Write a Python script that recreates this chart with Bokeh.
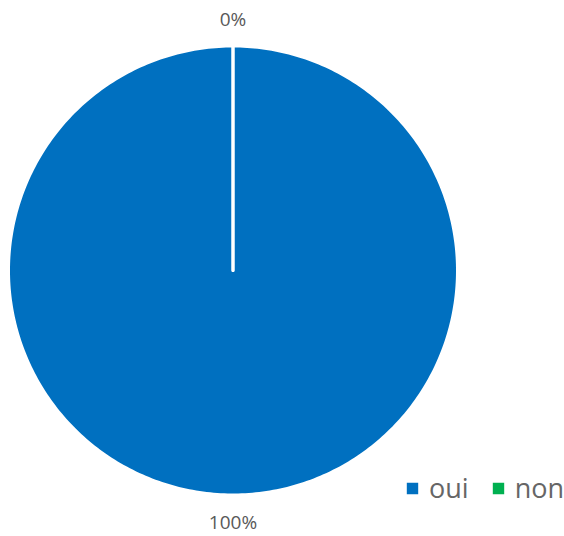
import numpy as np
from bokeh.plotting import figure
from bokeh.models import ColumnDataSource, Legend, LegendItem
from bokeh.embed import file_html
from bokeh.resources import INLINE
from bokeh.core.properties import value

categories = ["oui", "non"]
values = [1, 0]
pct_labels = ["100%", "0%"]
colors = ["#0070C0", "#00B050"]

W, H = 564, 536
cx, cy = 232.5, 270
R = 224.5

p = figure(width=W, height=H, output_backend="svg", toolbar_location=None,
           x_range=(-cx, W - cx), y_range=(-(H - cy), cy),
           min_border=0, outline_line_color=None)
p.axis.visible = False
p.grid.visible = False
p.background_fill_color = "white"

total = float(sum(values))
xs, ys = [], []
start = np.pi / 2
mids = []
for v in values:
    frac = v / total
    end = start - 2 * np.pi * frac
    th = np.linspace(start, end, 400)
    xs.append(list(np.concatenate([[0], R * np.cos(th), [0]])))
    ys.append(list(np.concatenate([[0], R * np.sin(th), [0]])))
    mids.append((start + end) / 2)
    start = end

src = ColumnDataSource(dict(xs=xs, ys=ys, color=colors, cat=categories))
r = p.patches("xs", "ys", source=src, fill_color="color", line_color="white",
              line_width=3, line_join="round")

# labels outside
lr = 251.5
lx = [lr * np.cos(m) for m in mids]
ly = [lr * np.sin(m) for m in mids]
p.text(x=lx, y=ly, text=pct_labels, text_align="center", text_baseline="middle",
       text_font=value("Open Sans"), text_font_size="19px", text_color="#595959")

legend = Legend(items=[LegendItem(label=c, renderers=[r], index=i) for i, c in enumerate(categories)],
                location=(403, 30), orientation="horizontal",
                label_text_font="Open Sans", label_text_font_size="27px",
                label_text_color="#666666", glyph_width=18, glyph_height=18,
                label_standoff=8, spacing=20, padding=0, margin=0,
                border_line_color=None, background_fill_alpha=0)
p.add_layout(legend, "center")

open("out.html", "w").write(file_html(p, INLINE))
